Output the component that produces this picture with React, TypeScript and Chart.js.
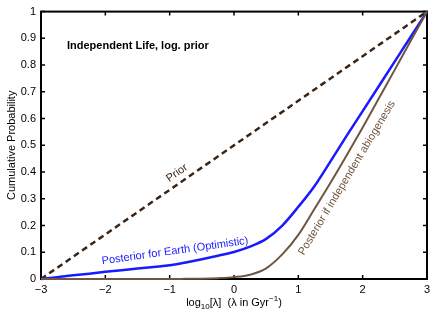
import React, { useEffect, useRef } from "react";
import { Chart, registerables } from "chart.js";

Chart.register(...registerables);

const logLambda = [-3, -2.75, -2.5, -2.25, -2, -1.75, -1.5, -1.25, -1, -0.75, -0.5, -0.25, 0, 0.25, 0.5, 0.75, 1, 1.25, 1.5, 1.75, 2, 2.25, 2.5, 2.75, 3];
const posteriorEarth = [0, 0.007, 0.014, 0.02, 0.027, 0.033, 0.039, 0.045, 0.051, 0.062, 0.074, 0.087, 0.101, 0.121, 0.15, 0.2, 0.27, 0.347, 0.44, 0.535, 0.628, 0.721, 0.814, 0.907, 1];
const posteriorIndependent = [0, 0, 0, 0, 0, 0, 0, 0, 0, 0.0005, 0.001, 0.003, 0.007, 0.016, 0.04, 0.092, 0.165, 0.262, 0.36, 0.462, 0.567, 0.675, 0.783, 0.892, 1];
const priorX = [-3, 3];
const priorY = [0, 1];

const xTicks = [-3, -2, -1, 0, 1, 2, 3];
const yTicks = [0, 0.1, 0.2, 0.3, 0.4, 0.5, 0.6, 0.7, 0.8, 0.9, 1];

const FONT = '"Liberation Sans", Arial, Helvetica, sans-serif';
const BLUE = "#1a1aff";
const BROWN = "#6e5640";
const DARK = "#3a2616";

const toPts = (xs: number[], ys: number[]) => xs.map((x, i) => ({ x, y: ys[i] }));

const framePlugin = {
  id: "frame",
  beforeDatasetsDraw(chart: any) {
    const { ctx, chartArea: a, scales } = chart;
    ctx.save();
    ctx.strokeStyle = "#000";
    ctx.lineWidth = 2;
    ctx.strokeRect(a.left, a.top, a.right - a.left, a.bottom - a.top);
    ctx.lineWidth = 1.5;
    const tl = 4;
    xTicks.forEach((v) => {
      const px = scales.x.getPixelForValue(v);
      ctx.beginPath();
      ctx.moveTo(px, a.bottom);
      ctx.lineTo(px, a.bottom - tl);
      ctx.moveTo(px, a.top);
      ctx.lineTo(px, a.top + tl);
      ctx.stroke();
    });
    yTicks.forEach((v) => {
      const py = scales.y.getPixelForValue(v);
      ctx.beginPath();
      ctx.moveTo(a.left, py);
      ctx.lineTo(a.left + tl, py);
      ctx.moveTo(a.right, py);
      ctx.lineTo(a.right - tl, py);
      ctx.stroke();
    });
    ctx.restore();
  },
  afterDraw(chart: any) {
    const { ctx, chartArea: a } = chart;
    ctx.save();
    ctx.fillStyle = "#000";
    ctx.font = `bold 11px ${FONT}`;
    ctx.textAlign = "left";
    ctx.textBaseline = "alphabetic";
    ctx.fillText("Independent Life, log. prior", 67, 49);

    const rotText = (txt: string, cx: number, cy: number, deg: number, color: string) => {
      ctx.save();
      ctx.translate(cx, cy);
      ctx.rotate((deg * Math.PI) / 180);
      ctx.fillStyle = color;
      ctx.font = `11px ${FONT}`;
      ctx.textAlign = "center";
      ctx.textBaseline = "middle";
      ctx.fillText(txt, 0, 0);
      ctx.restore();
    };
    rotText("Prior", 177, 173, -35, DARK);
    rotText("Posterior for Earth (Optimistic)", 175, 251, -8, BLUE);
    rotText("Posterior if independent abiogenesis", 347, 178, -59, BROWN);

    ctx.save();
    ctx.translate(12, (a.top + a.bottom) / 2);
    ctx.rotate(-Math.PI / 2);
    ctx.fillStyle = "#000";
    ctx.font = `11px ${FONT}`;
    ctx.textAlign = "center";
    ctx.textBaseline = "middle";
    ctx.fillText("Cumulative Probability", 0, 0);
    ctx.restore();

    const parts: [string, number, number][] = [
      ["log", 11, 0],
      ["10", 8, 3],
      ["[λ]  (λ in Gyr", 11, 0],
      ["−1", 8, -5],
      [")", 11, 0],
    ];
    let total = 0;
    parts.forEach(([t, s]) => {
      ctx.font = `${s}px ${FONT}`;
      total += ctx.measureText(t).width;
    });
    let x = 234 - total / 2;
    const base = 306;
    ctx.fillStyle = "#000";
    ctx.textAlign = "left";
    ctx.textBaseline = "alphabetic";
    parts.forEach(([t, s, dy]) => {
      ctx.font = `${s}px ${FONT}`;
      ctx.fillText(t, x, base + dy);
      x += ctx.measureText(t).width;
    });
    ctx.restore();
  },
};

export default function App() {
  const ref = useRef<HTMLCanvasElement | null>(null);
  useEffect(() => {
    if (!ref.current) return;
    const chart = new Chart(ref.current, {
      type: "scatter",
      data: {
        datasets: [
          {
            label: "Posterior if independent abiogenesis",
            data: toPts(logLambda, posteriorIndependent),
            showLine: true,
            borderColor: BROWN,
            borderWidth: 2,
            pointRadius: 0,
            cubicInterpolationMode: "monotone",
            clip: 4,
          } as any,
          {
            label: "Posterior for Earth (Optimistic)",
            data: toPts(logLambda, posteriorEarth),
            showLine: true,
            borderColor: BLUE,
            borderWidth: 2.5,
            pointRadius: 0,
            cubicInterpolationMode: "monotone",
            clip: 4,
          } as any,
          {
            label: "Prior",
            data: toPts(priorX, priorY),
            showLine: true,
            borderColor: DARK,
            borderWidth: 2.5,
            borderDash: [6, 4],
            pointRadius: 0,
            clip: 4,
          } as any,
        ],
      },
      options: {
        responsive: false,
        animation: false,
        devicePixelRatio: 1,
        layout: { padding: { left: 0, right: 9, top: 9, bottom: 0 } },
        plugins: { legend: { display: false }, tooltip: { enabled: false } },
        scales: {
          x: {
            type: "linear",
            min: -3,
            max: 3,
            grid: { display: false, drawTicks: false },
            border: { display: false },
            afterFit: (s: any) => {
              s.height = 37;
            },
            afterBuildTicks: (s: any) => {
              s.ticks = xTicks.map((v) => ({ value: v }));
            },
            ticks: {
              padding: 4,
              color: "#000",
              font: { family: FONT, size: 11 },
              callback: (v: any) => (Number(v) < 0 ? "−" + Math.abs(Number(v)) : String(v)),
            },
          },
          y: {
            type: "linear",
            min: 0,
            max: 1,
            grid: { display: false, drawTicks: false },
            border: { display: false },
            afterFit: (s: any) => {
              s.width = 41;
            },
            afterBuildTicks: (s: any) => {
              s.ticks = yTicks.map((v) => ({ value: v }));
            },
            ticks: {
              padding: 5,
              color: "#000",
              font: { family: FONT, size: 11 },
              callback: (v: any) => {
                const n = Number(v);
                if (n === 0) return "0";
                if (n === 1) return "1";
                return n.toFixed(1);
              },
            },
          },
        },
      },
      plugins: [framePlugin],
    });
    return () => chart.destroy();
  }, []);
  return (
    <div style={{ position: "fixed", left: 0, top: 0, width: 436, height: 316, background: "#fff" }}>
      <canvas ref={ref} width={436} height={316} style={{ display: "block" }} />
    </div>
  );
}
